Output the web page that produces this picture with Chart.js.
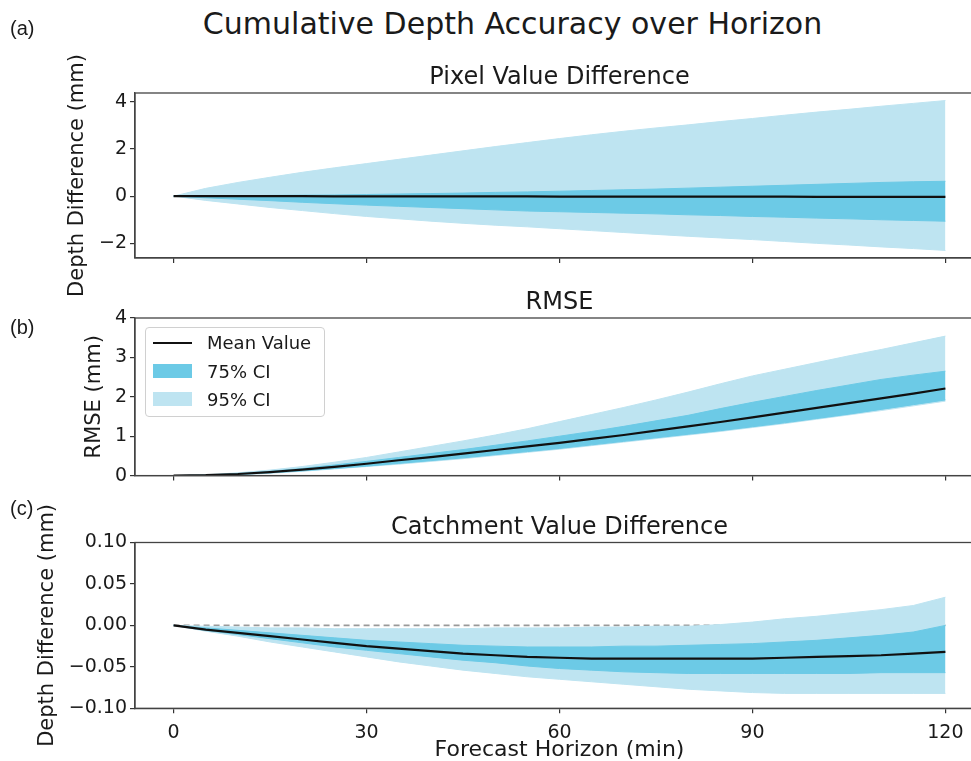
<!DOCTYPE html>
<html>
<head>
<meta charset="utf-8">
<script src="https://cdn.jsdelivr.net/npm/chart.js@4.4.1/dist/chart.umd.min.js"></script>
<style>
    body { margin: 0; overflow: hidden; background: #fff; font-family: "DejaVu Sans", sans-serif; }
    #wrap { position: relative; width: 990px; height: 761px; }
    canvas { position: absolute; left: 0; }
    #mainTitle { position: absolute; left: 0; top: 6px; width: 1025px; text-align: center; font-size: 30px; line-height: 36px; color: #1a1a1a; }
    .panel { position: absolute; left: 10px; font-family: "Liberation Sans", sans-serif; font-size: 20px; line-height: 22px; color: #1a1a1a; }
    #legend { position: absolute; left: 145px; top: 327px; width: 178px; height: 88px; border: 1px solid #d0d0d0; border-radius: 4px; background: rgba(255,255,255,0.85); }
    #legend .row { position: absolute; left: 0; height: 22px; font-size: 18px; line-height: 22px; color: #1a1a1a; }
    #legend .key { position: absolute; left: 7px; width: 39px; }
    #legend .txt { position: absolute; left: 61px; white-space: nowrap; }
</style>
</head>
<body>
<div id="wrap">
    <div id="mainTitle">Cumulative Depth Accuracy over Horizon</div>
    <canvas id="pixelChart" width="990" height="310" style="top:0px"></canvas>
    <canvas id="rmseChart" width="990" height="200" style="top:290px"></canvas>
    <canvas id="catchChart" width="990" height="268" style="top:495px"></canvas>
    <div class="panel" style="top:17px">(a)</div>
    <div class="panel" style="top:316px">(b)</div>
    <div class="panel" style="top:497px">(c)</div>
    <div id="legend"></div>
</div>
<script>
const minutes = [0, 5, 10, 15, 20, 25, 30, 35, 40, 45, 50, 55, 60, 65, 70, 75, 80, 85, 90, 95, 100, 105, 110, 115, 120];
const xTicks = [0, 30, 60, 90, 120];

// (a) pixel value difference (mm)
const pixelMean    = [0, 0, 0, 0, 0, -0.01, -0.01, -0.01, -0.01, -0.01, -0.01, -0.01, -0.02, -0.02, -0.02, -0.02, -0.02, -0.02, -0.02, -0.02, -0.03, -0.03, -0.03, -0.03, -0.03];
const pixelUpper75 = [0, 0.01, 0.02, 0.03, 0.04, 0.05, 0.07, 0.09, 0.11, 0.13, 0.16, 0.18, 0.21, 0.24, 0.27, 0.30, 0.34, 0.38, 0.42, 0.46, 0.50, 0.54, 0.58, 0.61, 0.63];
const pixelLower75 = [0, -0.07, -0.13, -0.19, -0.26, -0.32, -0.38, -0.43, -0.48, -0.53, -0.58, -0.63, -0.66, -0.69, -0.72, -0.75, -0.79, -0.82, -0.86, -0.89, -0.93, -0.96, -1.00, -1.03, -1.06];
const pixelUpper95 = [0, 0.33, 0.58, 0.80, 1.01, 1.20, 1.38, 1.56, 1.74, 1.92, 2.10, 2.27, 2.44, 2.60, 2.75, 2.89, 3.02, 3.16, 3.29, 3.43, 3.56, 3.68, 3.81, 3.93, 4.05];
const pixelLower95 = [0, -0.18, -0.33, -0.48, -0.61, -0.74, -0.86, -0.96, -1.06, -1.15, -1.23, -1.30, -1.38, -1.46, -1.54, -1.62, -1.70, -1.77, -1.84, -1.92, -2.00, -2.07, -2.15, -2.22, -2.30];

// (b) RMSE (mm)
const rmseMean    = [0, 0.01, 0.04, 0.09, 0.15, 0.22, 0.30, 0.39, 0.47, 0.56, 0.65, 0.74, 0.83, 0.93, 1.03, 1.14, 1.25, 1.36, 1.48, 1.60, 1.72, 1.84, 1.96, 2.08, 2.21];
const rmseUpper75 = [0, 0.01, 0.05, 0.11, 0.18, 0.27, 0.36, 0.46, 0.56, 0.66, 0.77, 0.88, 1.00, 1.12, 1.25, 1.39, 1.53, 1.70, 1.86, 2.01, 2.16, 2.30, 2.44, 2.55, 2.65];
const rmseLower75 = [0, 0, 0.03, 0.07, 0.12, 0.18, 0.24, 0.31, 0.38, 0.45, 0.53, 0.61, 0.69, 0.78, 0.87, 0.96, 1.05, 1.14, 1.24, 1.34, 1.45, 1.56, 1.68, 1.80, 1.92];
const rmseUpper95 = [0, 0.02, 0.07, 0.14, 0.23, 0.34, 0.46, 0.60, 0.74, 0.88, 1.03, 1.19, 1.37, 1.55, 1.73, 1.92, 2.12, 2.33, 2.53, 2.70, 2.87, 3.04, 3.20, 3.37, 3.54];
const rmseLower95 = [0, 0, 0.02, 0.06, 0.11, 0.17, 0.23, 0.29, 0.36, 0.43, 0.51, 0.59, 0.67, 0.76, 0.85, 0.94, 1.03, 1.12, 1.22, 1.32, 1.43, 1.54, 1.65, 1.77, 1.89];

// (c) catchment value difference (mm)
const catchMean    = [0, -0.005, -0.009, -0.013, -0.017, -0.021, -0.025, -0.028, -0.031, -0.034, -0.036, -0.038, -0.039, -0.040, -0.040, -0.040, -0.040, -0.040, -0.040, -0.039, -0.038, -0.037, -0.036, -0.034, -0.032];
const catchUpper75 = [0, -0.003, -0.006, -0.009, -0.012, -0.015, -0.018, -0.020, -0.022, -0.024, -0.025, -0.026, -0.026, -0.026, -0.025, -0.025, -0.024, -0.023, -0.022, -0.020, -0.018, -0.015, -0.012, -0.008, 0.000];
const catchLower75 = [0, -0.006, -0.011, -0.016, -0.021, -0.026, -0.030, -0.034, -0.038, -0.042, -0.045, -0.049, -0.052, -0.054, -0.056, -0.057, -0.058, -0.058, -0.058, -0.058, -0.058, -0.058, -0.057, -0.057, -0.057];
const catchUpper95 = [0, -0.001, -0.002, -0.003, -0.003, -0.004, -0.004, -0.004, -0.004, -0.004, -0.003, -0.003, -0.003, -0.002, -0.002, -0.001, -0.001, 0.001, 0.004, 0.008, 0.011, 0.015, 0.019, 0.024, 0.034];
const catchLower95 = [0, -0.007, -0.013, -0.020, -0.026, -0.032, -0.038, -0.044, -0.049, -0.054, -0.058, -0.062, -0.065, -0.068, -0.071, -0.074, -0.077, -0.079, -0.081, -0.082, -0.082, -0.082, -0.082, -0.082, -0.082];
const zeroLineX = [0, 120];
const zeroLineY = [0, 0];

const pixelTicks = [-2, 0, 2, 4];
const rmseTicks = [0, 1, 2, 3, 4];
const catchTicks = [-0.10, -0.05, 0.00, 0.05, 0.10];

const legendLabels = ["Mean Value", "75% CI", "95% CI"];

const CI75 = "rgb(108,202,230)";
const CI95 = "rgb(190,228,241)";
const INK = "#1a1a1a";

Chart.defaults.font.family = '"DejaVu Sans", sans-serif';
Chart.defaults.color = INK;

function pts(xs, ys) {
    return xs.map((x, i) => ({ x: x, y: ys[i] }));
}

function band(upper, lower, color, order) {
    return [
        { data: pts(minutes, upper), borderColor: color, borderWidth: 1, backgroundColor: color, pointRadius: 0, fill: "+1", order: order },
        { data: pts(minutes, lower), borderColor: color, borderWidth: 1, pointRadius: 0, fill: false, order: order }
    ];
}

// box round the plot + subplot title over its centre
const frameTitle = {
    id: "frameTitle",
    afterDraw(chart, args, opts) {
        const a = chart.chartArea;
        const ctx = chart.ctx;
        ctx.save();
        ctx.strokeStyle = "#444";
        ctx.lineWidth = 1.3;
        ctx.strokeRect(a.left, a.top, a.right - a.left, a.bottom - a.top);
        ctx.fillStyle = INK;
        ctx.font = '24px "DejaVu Sans"';
        ctx.textAlign = "center";
        ctx.textBaseline = "alphabetic";
        ctx.fillText(opts.text, (a.left + a.right) / 2, a.top - 9);
        ctx.restore();
    }
};

function tickText(dec) {
    return v => (v < -1e-9 ? "\u2212" : "") + Math.abs(v).toFixed(dec);
}

function makePanel(id, p) {
    const datasets = [
        { data: pts(minutes, p.mean), borderColor: "#111", borderWidth: 2.2, pointRadius: 0, fill: false, order: 0 }
    ].concat(band(p.upper75, p.lower75, CI75, 1), band(p.upper95, p.lower95, CI95, 2));

    if (p.zero) {
        datasets.push({ data: pts(zeroLineX, zeroLineY), borderColor: "#999", borderWidth: 1.6, borderDash: [6, 4], pointRadius: 0, fill: false, order: 3 });
    }

    return new Chart(document.getElementById(id), {
        type: "line",
        data: { datasets: datasets },
        options: {
            responsive: false,
            animation: false,
            devicePixelRatio: 1,
            layout: { padding: { top: p.top, left: p.left, right: 6, bottom: 0 } },
            plugins: {
                legend: { display: false },
                tooltip: { enabled: false },
                frameTitle: { text: p.title }
            },
            scales: {
                x: {
                    type: "linear",
                    min: -6,
                    max: 126,
                    afterBuildTicks: s => { s.ticks = xTicks.map(v => ({ value: v })); },
                    afterFit: s => { s.height = p.xHeight; },
                    ticks: { display: p.showX, font: { size: 19 }, color: INK, padding: 8, maxRotation: 0 },
                    grid: { drawOnChartArea: false, tickLength: 5, color: "#333", lineWidth: 1.2 },
                    border: { color: "#444", width: 1.3 },
                    title: { display: p.showX, text: "Forecast Horizon (min)", font: { size: 22 }, color: INK, padding: 0 }
                },
                y: {
                    min: p.ymin,
                    max: p.ymax,
                    afterBuildTicks: s => { s.ticks = p.yTicks.map(v => ({ value: v })); },
                    afterFit: s => { s.width = p.yWidth; },
                    ticks: { font: { size: 19 }, color: INK, padding: 3, callback: tickText(p.dec) },
                    grid: { drawOnChartArea: false, tickLength: 5, color: "#333", lineWidth: 1.2 },
                    border: { color: "#444", width: 1.3 },
                    title: { display: true, text: p.yTitle, font: { size: 21 }, color: INK, padding: 0 }
                }
            }
        },
        plugins: [frameTitle]
    });
}

makePanel("pixelChart", {
    title: "Pixel Value Difference", yTitle: "Depth Difference (mm)",
    mean: pixelMean, upper75: pixelUpper75, lower75: pixelLower75, upper95: pixelUpper95, lower95: pixelLower95,
    ymin: -2.62, ymax: 4.37, yTicks: pixelTicks, dec: 0,
    top: 93, left: 65, yWidth: 70, xHeight: 52, showX: false
});

makePanel("rmseChart", {
    title: "RMSE", yTitle: "RMSE (mm)",
    mean: rmseMean, upper75: rmseUpper75, lower75: rmseLower75, upper95: rmseUpper95, lower95: rmseLower95,
    ymin: 0, ymax: 4, yTicks: rmseTicks, dec: 0,
    top: 28, left: 82, yWidth: 53, xHeight: 7, showX: false
});

makePanel("catchChart", {
    title: "Catchment Value Difference", yTitle: "Depth Difference (mm)",
    mean: catchMean, upper75: catchUpper75, lower75: catchLower75, upper95: catchUpper95, lower95: catchLower95,
    ymin: -0.1, ymax: 0.1, yTicks: catchTicks, dec: 2, zero: true,
    top: 47.5, left: 35, yWidth: 100, xHeight: 54.7, showX: true
});

// legend sits inside the RMSE panel, top left
const legend = document.getElementById("legend");
const keyStyles = [
    "top:10px;height:2.2px;background:#111;",
    "top:3px;height:14px;background:" + CI75 + ";",
    "top:3px;height:14px;background:" + CI95 + ";"
];
legendLabels.forEach((label, i) => {
    const row = document.createElement("div");
    row.className = "row";
    row.style.top = (4 + i * 28.5) + "px";
    row.innerHTML = '<span class="key" style="' + keyStyles[i] + '"></span><span class="txt">' + label + "</span>";
    legend.appendChild(row);
});
</script>
</body>
</html>
